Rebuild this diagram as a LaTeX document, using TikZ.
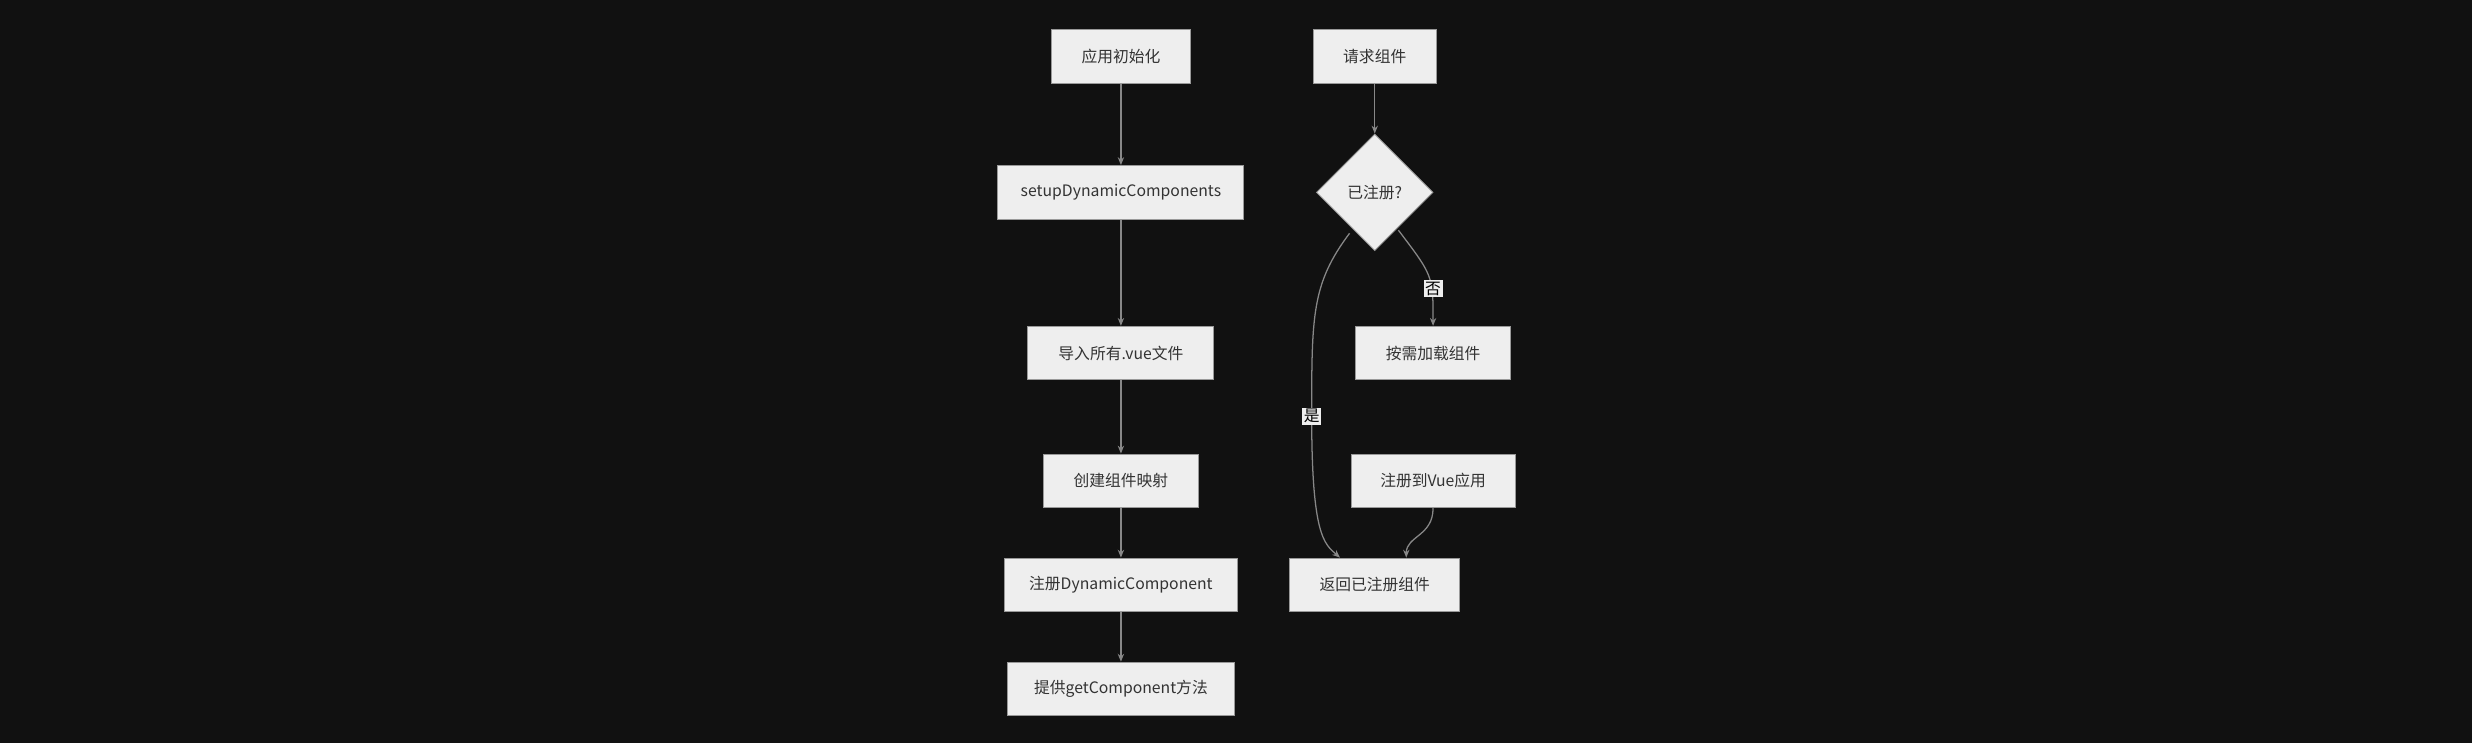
\documentclass[tikz,border=0pt]{standalone}
\usepackage{fontspec}
\setmainfont{Noto Sans CJK SC}
\usetikzlibrary{shapes.geometric,arrows.meta}
\definecolor{bg}{HTML}{111111}
\definecolor{boxfill}{HTML}{EEEEEE}
\definecolor{boxline}{HTML}{999999}
\definecolor{edge}{HTML}{888888}
\definecolor{txt}{HTML}{333333}
\begin{document}
\begin{tikzpicture}[x=1pt,y=-1pt,
  box/.style={draw=boxline,fill=boxfill,text=txt,font=\fontsize{10}{12}\selectfont,minimum height=34pt,inner sep=0pt,line width=0.6pt},
  dia/.style={diamond,draw=boxline,fill=boxfill,text=txt,font=\fontsize{10}{12}\selectfont,minimum width=74pt,minimum height=74pt,inner sep=0pt,line width=0.6pt},
  arr/.style={draw=edge,line width=0.8pt,-{Stealth[length=5pt,width=4pt]}},
  lbl/.style={fill=boxfill,text=black,font=\fontsize{10}{12}\selectfont,inner sep=1pt}]
\fill[bg] (0,0) rectangle (1568,471);
\useasboundingbox (0,0) rectangle (1568,471);
\node[box,minimum width=88pt] (a) at (711,36) {应用初始化};
\node[box,minimum width=156pt] (b) at (711,122) {setupDynamicComponents};
\node[box,minimum width=118pt] (c) at (711,224) {导入所有.vue文件};
\node[box,minimum width=98pt] (d) at (711,305) {创建组件映射};
\node[box,minimum width=148pt] (e) at (711,371) {注册DynamicComponent};
\node[box,minimum width=144pt] (f) at (711,437) {提供getComponent方法};
\node[box,minimum width=78pt] (r) at (872,36) {请求组件};
\node[dia] (q) at (872,122) {已注册?};
\node[box,minimum width=98pt] (l) at (909,224) {按需加载组件};
\node[box,minimum width=104pt] (v) at (909,305) {注册到Vue应用};
\node[box,minimum width=108pt] (ret) at (872,371) {返回已注册组件};
\draw[arr] (a) -- (b);
\draw[arr] (b) -- (c);
\draw[arr] (c) -- (d);
\draw[arr] (d) -- (e);
\draw[arr] (e) -- (f);
\draw[arr] (r) -- (q);
\draw[arr] (q.south east) ++(-3,-3) coordinate (qa) (887,146) .. controls (909,175) .. (l.north);
\draw[arr] (856,148) .. controls (832,180) and (832,200) .. (832,264) .. controls (832,340) and (840,345) .. (ret.north -| 850,0);
\draw[arr] (v.south) .. controls (909,340) and (892,340) .. (ret.north -| 892,0);
\node[lbl] at (909,183) {否};
\node[lbl] at (832,264) {是};
\end{tikzpicture}
\end{document}
